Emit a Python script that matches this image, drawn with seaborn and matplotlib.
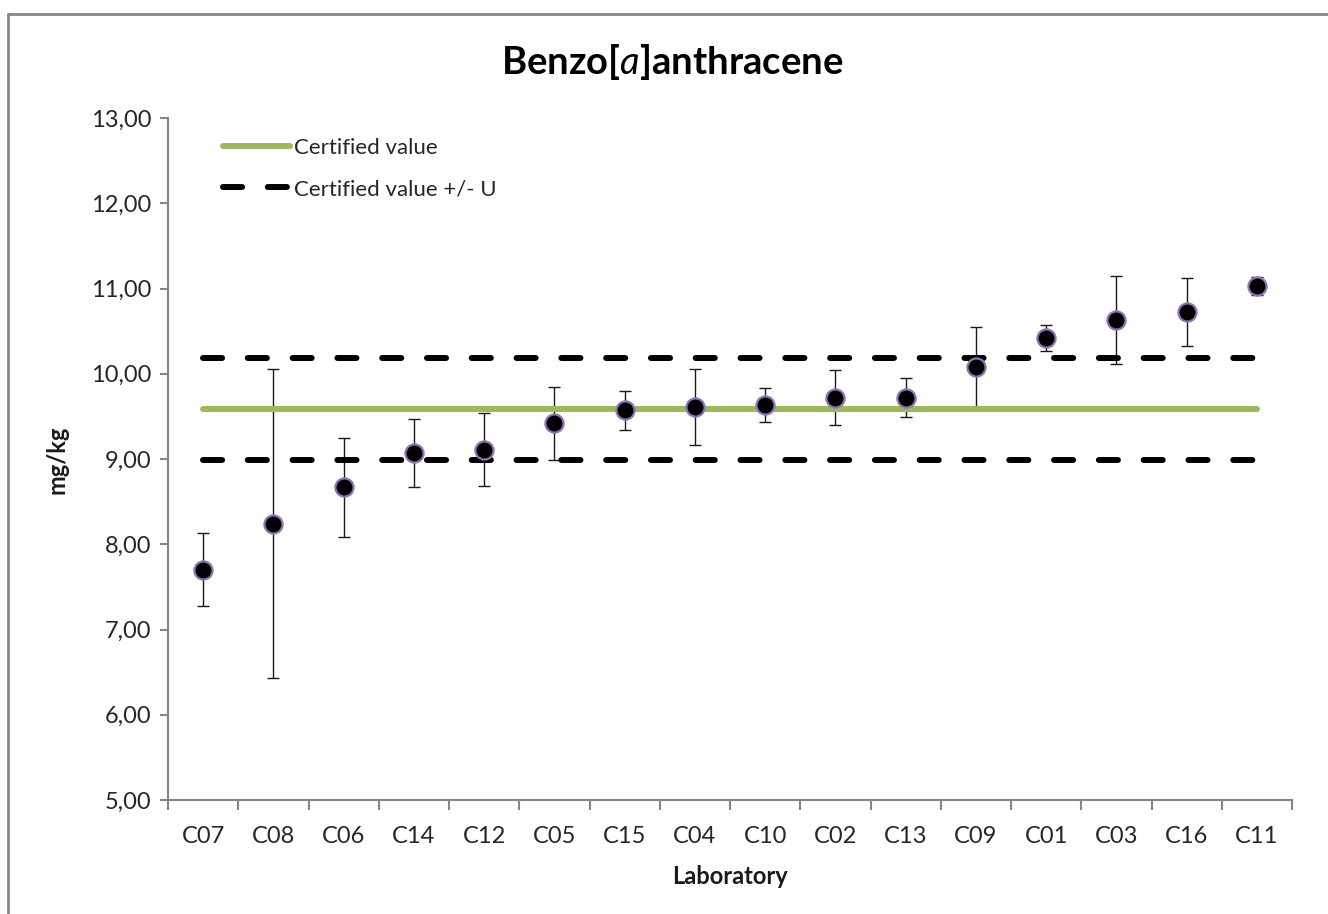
import numpy as np
import pandas as pd
import matplotlib
matplotlib.use("Agg")
import matplotlib.pyplot as plt
from matplotlib.lines import Line2D
import seaborn as sns

# ---- data ----
labs = ["C07", "C08", "C06", "C14", "C12", "C05", "C15", "C04",
        "C10", "C02", "C13", "C09", "C01", "C03", "C16", "C11"]
values = [7.70, 8.24, 8.67, 9.07, 9.11, 9.42, 9.57, 9.61,
          9.63, 9.72, 9.72, 10.08, 10.42, 10.63, 10.72, 11.03]
uncert = [0.43, 1.81, 0.58, 0.40, 0.43, 0.43, 0.23, 0.44,
          0.20, 0.32, 0.23, 0.47, 0.15, 0.52, 0.40, 0.11]
certified = 9.59
certified_U = 0.60
yticks = [5, 6, 7, 8, 9, 10, 11, 12, 13]

df = pd.DataFrame({"Laboratory": labs, "value": values, "U": uncert})

sns.set_theme(style="white")
plt.rcParams["font.family"] = ["Lato", "DejaVu Sans"]
plt.rcParams["mathtext.fontset"] = "custom"
plt.rcParams["mathtext.it"] = "Lato:italic"
plt.rcParams["mathtext.rm"] = "Lato"

fig = plt.figure(figsize=(13.28, 9.14), dpi=100)
ax = fig.add_axes([168 / 1328, 1 - 800 / 914, (1292 - 168) / 1328, (800 - 118) / 914])

x = np.arange(len(labs))

# error bars
ax.errorbar(x, df["value"], yerr=df["U"], fmt="none", ecolor="#1a1a1a",
            elinewidth=1.0, capsize=4.6, capthick=1.0, zorder=2)

# certified value lines
cert_line = ax.plot(x, [certified] * len(x), color="#9BBB59", lw=4.3,
                    solid_capstyle="round", zorder=3, label="Certified value")[0]
up_line = ax.plot(x, [certified + certified_U] * len(x), color="black", lw=4.3,
                  dashes=(3.2, 4.3), dash_capstyle="round", zorder=3,
                  label="Certified value +/- U")[0]
ax.plot(x, [certified - certified_U] * len(x), color="black", lw=4.3,
        dashes=(3.2, 4.3), dash_capstyle="round", zorder=3)

# points
sns.scatterplot(x=x, y=df["value"], ax=ax, s=170, color="black",
                edgecolor="#8E72B8", linewidth=1.6, zorder=4, legend=False)

ax.set_xlim(-0.5, len(labs) - 0.5)
ax.set_ylim(min(yticks), max(yticks))
ax.set_yticks(yticks)
ax.set_yticklabels([f"{v:.2f}".replace(".", ",") for v in yticks])
ax.set_xticks(x)
ax.set_xticklabels(labs)
ax.set_xticks(np.arange(-0.5, len(labs), 1.0), minor=True)

for s in ["top", "right"]:
    ax.spines[s].set_visible(False)
for s in ["left", "bottom"]:
    ax.spines[s].set_color("#868686")
    ax.spines[s].set_linewidth(1.5)

ax.tick_params(axis="y", which="major", direction="out", length=6, width=1.5,
               color="#868686", labelsize=17, labelcolor="#262626", pad=6, left=True)
ax.tick_params(axis="x", which="major", length=0, labelsize=17,
               labelcolor="#262626", pad=19, bottom=True)
ax.tick_params(axis="x", which="minor", direction="out", length=7, width=1.5,
               color="#868686", bottom=True)

ax.set_xlabel("Laboratory", fontsize=17, fontweight="bold", color="#1a1a1a", labelpad=13)
ax.set_ylabel("mg/kg", fontsize=17, fontweight="bold", color="#1a1a1a")
ax.yaxis.set_label_coords((69 - 168) / (1292 - 168), (800 - 460) / (800 - 118))

fig.text(672 / 1328, 1 - 62 / 914, r"Benzo[$\mathit{a}$]anthracene",
         ha="center", va="center", fontsize=27.5, fontweight="bold", color="black")

ax.legend(handles=[cert_line, up_line], loc="upper left",
          bbox_to_anchor=(212 / 1328, 1 - 127 / 914), bbox_transform=fig.transFigure,
          frameon=False, fontsize=16, handlelength=3.0, handletextpad=0.2,
          labelspacing=0.95, borderpad=0, labelcolor="#262626")

# chart-area border (left and top visible)
fig.add_artist(Line2D([8 / 1328, 8 / 1328], [0, 1 - 14 / 914], transform=fig.transFigure,
                      color="#868686", lw=2))
fig.add_artist(Line2D([8 / 1328, 1], [1 - 14 / 914, 1 - 14 / 914], transform=fig.transFigure,
                      color="#868686", lw=2))

fig.savefig("out.png", dpi=100, facecolor="white")
